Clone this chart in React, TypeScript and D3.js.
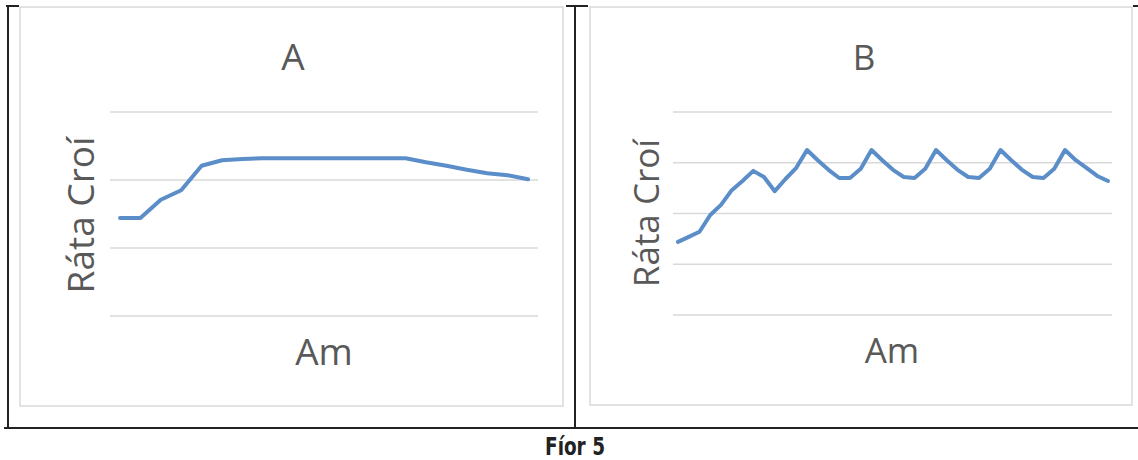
import React from "react";
import * as d3 from "d3";

// Panel A: heart rate over time (arbitrary units, gridline units)
const seriesA: number[] = [1.44, 1.44, 1.71, 1.85, 2.21, 2.29, 2.31, 2.32, 2.32, 2.32, 2.32, 2.32, 2.32, 2.32, 2.32, 2.26, 2.21, 2.15, 2.1, 2.07, 2.01];
// Panel B
const seriesB: number[] = [1.44, 1.54, 1.64, 1.97, 2.17, 2.46, 2.64, 2.84, 2.72, 2.44, 2.68, 2.9, 3.25, 3.05, 2.86, 2.7, 2.7, 2.88, 3.25, 3.05, 2.86, 2.72, 2.7, 2.88, 3.25, 3.05, 2.86, 2.72, 2.7, 2.88, 3.25, 3.05, 2.86, 2.72, 2.7, 2.88, 3.25, 3.05, 2.9, 2.74, 2.64];
const gridA: number[] = [0, 1, 2, 3];
const gridB: number[] = [0, 1, 2, 3, 4];
const titles: string[] = ["A", "B"];
const yLabel = "Ráta Croí";
const xLabel = "Am";
const caption = "Fíor 5";

const LINE = "#5b8ec9";
const GRID = "#d9d9d9";
const TXT = "#595959";
const FONT = "'Open Sans', sans-serif";

interface PanelProps {
  data: number[];
  grid: number[];
  title: string;
  box: [number, number, number, number];
  gx: [number, number];
  lx: [number, number];
  gy: [number, number];
  titlePos: [number, number];
  amPos: [number, number];
  ylPos: [number, number];
  fs: number;
}

function Panel(p: PanelProps) {
  const x = d3.scaleLinear().domain([0, p.data.length - 1]).range(p.lx);
  const y = d3.scaleLinear().domain([0, d3.max(p.grid) as number]).range(p.gy);
  const line = d3.line<number>().x((_, i) => x(i)).y((d) => y(d));
  const [bx, by, bw, bh] = p.box;
  return (
    <g>
      <rect x={bx} y={by} width={bw} height={bh} fill="#fff" stroke={GRID} strokeWidth={1.5} />
      {p.grid.map((g) => (
        <line key={g} x1={p.gx[0]} x2={p.gx[1]} y1={y(g)} y2={y(g)} stroke={GRID} strokeWidth={1.5} />
      ))}
      <path d={line(p.data) || ""} fill="none" stroke={LINE} strokeWidth={4} strokeLinejoin="round" strokeLinecap="round" />
      <text x={p.titlePos[0]} y={p.titlePos[1]} textAnchor="middle" fontFamily={FONT} fontSize={p.fs} fill={TXT}>{p.title}</text>
      <text x={p.amPos[0]} y={p.amPos[1]} textAnchor="middle" fontFamily={FONT} fontSize={p.fs} fill={TXT}>{xLabel}</text>
      <text transform={`translate(${p.ylPos[0]},${p.ylPos[1]}) rotate(-90)`} textAnchor="middle" fontFamily={FONT} fontSize={p.fs} fill={TXT}>{yLabel}</text>
    </g>
  );
}

export default function App() {
  return (
    <svg width={1138} height={460} style={{ position: "absolute", left: 0, top: 0, background: "#fff" }}>
      <Panel data={seriesA} grid={gridA} title={titles[0]} box={[20, 7, 543, 399]} gx={[110, 538]} lx={[120, 528]} gy={[316, 112]} titlePos={[293, 70]} amPos={[324, 365]} ylPos={[94, 215]} fs={37} />
      <Panel data={seriesB} grid={gridB} title={titles[1]} box={[590, 7, 542, 398]} gx={[673, 1112]} lx={[678, 1108]} gy={[315, 112]} titlePos={[864, 70]} amPos={[892, 363]} ylPos={[659, 213]} fs={35} />
      <g stroke="#222" strokeWidth={2}>
        <line x1={8} x2={8} y1={6} y2={428} />
        <line x1={575} x2={575} y1={6} y2={428} />
        <line x1={4} x2={1138} y1={428} y2={428} />
        <line x1={6} x2={19} y1={6} y2={6} />
        <line x1={566} x2={588} y1={6} y2={6} />
        <line x1={1133} x2={1138} y1={6} y2={6} />
      </g>
      <text transform="translate(575,455) scale(0.82,1)" textAnchor="middle" fontFamily="'DejaVu Sans Condensed', 'DejaVu Sans', sans-serif" fontWeight="bold" fontSize={25} fill="#222">{caption}</text>
    </svg>
  );
}
